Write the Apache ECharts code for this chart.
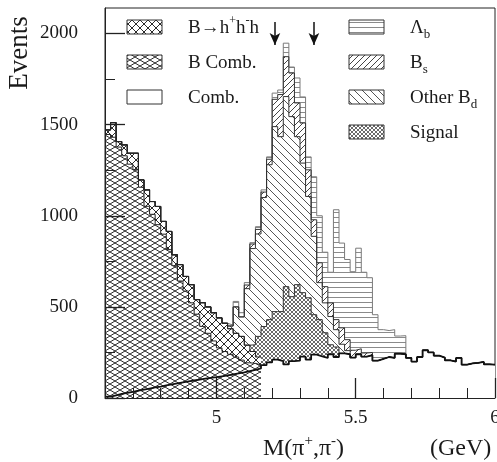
<!DOCTYPE html>
<html><head><meta charset="utf-8">
<script src="https://cdn.jsdelivr.net/npm/echarts@6/dist/echarts.min.js"></script>
<style>html,body{margin:0;padding:0;background:#fff}#c{width:497px;height:462px}</style>
</head><body><div id="c"></div>
<script>
// ---- binning (GeV) ----
const BIN_START = 4.6, BIN_WIDTH = 0.02, N_BINS = 70;
// ---- component values per bin (events) ----
const comb = [8,15,22,28,34,40,46,52,58,63,
  69,75,80,86,91,96,101,106,110,114,
  119,124,129,135,141,148,155,162,180,195,
  211,202,184,202,205,227,211,238,229,220,
  240,225,245,240,222,240,227,235,205,215,
  225,220,243,240,220,200,225,262,250,232,
  222,207,200,220,183,190,193,198,185,183];
const bComb = [1438,1416,1355,1301,1249,1213,1111,1000,950,888,
  830,739,646,556,496,426,359,287,245,199,
  156,131,111,90,67,45,35,20,0,0,
  0,0,0,0,0,0,0,0,0,0, 0,0,0,0,0,0,0,0,0,0,
  0,0,0,0,0,0,0,0,0,0, 0,0,0,0,0,0,0,0,0,0];
const bhhh = [25,80,30,60,60,90,40,90,70,100,
  70,100,60,90,80,100,80,130,145,155,
  165,155,140,130,130,97,65,43,0,0,
  0,0,0,0,0,0,0,0,0,0, 0,0,0,0,0,0,0,0,0,0,
  0,0,0,0,0,0,0,0,0,0, 0,0,0,0,0,0,0,0,0,0];
const signal = [0,0,0,0,0,0,0,0,0,0, 0,0,0,0,0,0,0,0,0,0,
  0,0,0,0,0,0,37,113,212,235,
  263,272,427,354,417,351,339,219,201,138,
  52,55,0,0,0,0,0,0,0,0,
  0,0,0,0,0,0,0,0,0,0, 0,0,0,0,0,0,0,0,0,0];
const otherBd = [0,0,0,0,0,0,0,0,0,0, 0,0,0,0,0,0,0,0,0,0,
  0,0,15,145,107,310,528,562,708,850,
  1015,960,1043,988,812,711,556,430,203,164,
  155,95,50,20,0,0,0,0,0,0,
  0,0,0,0,0,0,0,0,0,0, 0,0,0,0,0,0,0,0,0,0];
const bs = [0,0,0,0,0,0,0,0,0,0, 0,0,0,0,0,0,0,0,0,0,
  0,0,0,0,0,20,25,25,30,30,
  150,231,219,239,185,220,146,91,109,89,
  75,55,90,60,40,30,20,15,0,0,
  0,0,0,0,0,0,0,0,0,0, 0,0,0,0,0,0,0,0,0,0];
const lambdaB = [0,0,0,0,0,0,0,0,0,0, 0,0,0,0,0,0,0,0,0,0,
  0,0,5,30,23,13,7,15,12,13,
  34,25,74,33,137,143,71,236,258,189,
  168,603,465,440,431,552,443,410,252,160,
  145,155,97,102,0,0,0,0,0,0,
  0,0,0,0,0,0,0,0,0,0];
// ---- axes ----
const xMinorTicks = [4.7,4.8,4.9,5.0,5.1,5.2,5.3,5.4,5.5,5.6,5.7,5.8,5.9];
const xMajorTicks = [5, 5.5, 6];
const yMinorTicks = [250,500,750,1000,1250,1500,1750,2000];
const yMajorTicks = [0,500,1000,1500,2000];
const arrowsAt = [5.21, 5.35];
const FONT = "'Liberation Serif','Times New Roman',serif";

// ---- cumulative stack ----
function addArr(a,b){return a.map((v,i)=>v+b[i]);}
const cumC = comb.slice();
const cumCB = addArr(cumC,bComb);
const cumH = addArr(cumCB,bhhh);
const cumS = addArr(cumH,signal);
const cumO = addArr(cumS,otherBd);
const cumBs = addArr(cumO,bs);
const cumT = addArr(cumBs,lambdaB);
let lastB = 0; for(let i=0;i<N_BINS;i++){ if(bComb[i]+bhhh[i]>0) lastB=i; }

// ---- patterns ----
function tile(w,h,fn){const c=document.createElement('canvas');c.width=w;c.height=h;const g=c.getContext('2d');
  g.fillStyle='#fff';g.fillRect(0,0,w,h);g.strokeStyle='#2a2a2a';g.fillStyle='#2a2a2a';g.lineWidth=1;fn(g,w,h);
  return {image:c,repeat:'repeat'};}
function seg(g,x1,y1,x2,y2){g.beginPath();g.moveTo(x1,y1);g.lineTo(x2,y2);g.stroke();}
const PAT = {
  hlines: tile(4,5,(g,w)=>{g.fillStyle='#8a8a8a';g.fillRect(0,2,w,1);}),
  fwd: tile(6,6,(g,w,h)=>{g.strokeStyle='#444';for(const k of [-w,0,w]) seg(g,k,h,k+w,0);}),
  back: tile(8,8,(g,w,h)=>{g.strokeStyle='#555';for(const k of [-w,0,w]) seg(g,k,0,k+w,h);}),
  dots: tile(4,4,(g)=>{g.fillStyle='#6a6a6a';[[0,0],[1,1],[2,2],[3,3],[3,0],[2,1],[1,2],[0,3]].forEach(p=>g.fillRect(p[0],p[1],1,1));}),
  cross: tile(8,8,(g,w,h)=>{for(const k of [-w,0,w]){seg(g,k,0,k+w,h);seg(g,k,h,k+w,0);}}),
  lattice: tile(10,6,(g,w,h)=>{for(const k of [-w,0,w]){seg(g,k,0,k+w,h);seg(g,k,h,k+w,0);}})
};

function stepData(vals,from,to){
  const d=[];
  for(let i=from;i<=to;i++) d.push([+(BIN_START+i*BIN_WIDTH).toFixed(4), vals[i]]);
  d.push([+(BIN_START+(to+1)*BIN_WIDTH).toFixed(4), vals[to]]);
  return d;
}
function stepSeries(name,vals,from,to,fill,lineColor,lineWidth,extra){
  const s={name,type:'line',step:'end',data:stepData(vals,from,to),symbol:'none',showSymbol:false,
    silent:true,animation:false,xAxisIndex:0,yAxisIndex:0,
    lineStyle:{color:lineColor,width:lineWidth,opacity:lineWidth>0?1:0}};
  if(fill) s.areaStyle={color:fill,opacity:1};
  return Object.assign(s,extra||{});
}

const series = [
  stepSeries('Λb',cumT,0,N_BINS-1,PAT.hlines,'#7a7a7a',1),
  stepSeries('Bs',cumBs,0,N_BINS-1,PAT.fwd,'#333',1),
  stepSeries('Other Bd',cumO,0,N_BINS-1,PAT.back,'#333',1),
  stepSeries('Signal',cumS,0,N_BINS-1,PAT.dots,'#333',1),
  stepSeries('Comb. fill',cumC,0,N_BINS-1,'#ffffff','#fff',0),
  stepSeries('B→hhh',cumH,0,lastB,PAT.cross,'#222',1),
  stepSeries('B Comb.',cumCB,0,lastB,PAT.lattice,'#222',1),
  stepSeries('Comb.',cumC,0,N_BINS-1,null,'#111',1.8,{
    markLine:{silent:true,animation:false,symbol:['none','arrow'],symbolSize:[8,12],
      label:{show:false},lineStyle:{color:'#111',width:1.5,type:'solid'},
      data:arrowsAt.map(x=>[{coord:[x,2063]},{coord:[x,1937]}])}
  })
];

// ---- legend (graphic) ----
const rich = {
  sup:{fontSize:12,fontFamily:FONT,verticalAlign:'top',lineHeight:12,fill:'#1a1a1a'},
  sub:{fontSize:13,fontFamily:FONT,verticalAlign:'bottom',lineHeight:13,fill:'#1a1a1a'}
};
const legendLeft = [
  {label:'B→h{sup|+}h{sup|-}h', fill:PAT.cross},
  {label:'B Comb.', fill:PAT.lattice},
  {label:'Comb.', fill:'#fff'}
];
const legendRight = [
  {label:'Λ{sub|b}', fill:PAT.hlines},
  {label:'B{sub|s}', fill:PAT.fwd},
  {label:'Other B{sub|d}', fill:PAT.back},
  {label:'Signal', fill:PAT.dots}
];
const rowY = [27,62,97,132];
const graphic = [];
function addLegend(items,boxX,textX){
  items.forEach((it,i)=>{
    graphic.push({type:'rect',shape:{x:boxX,y:rowY[i]-7,width:35,height:14},
      style:{fill:it.fill,stroke:'#333',lineWidth:1},silent:true});
    graphic.push({type:'text',x:textX,y:rowY[i]+1,silent:true,
      style:{text:it.label,fontFamily:FONT,fontSize:19,fill:'#1a1a1a',lineHeight:26,
        verticalAlign:'middle',align:'left',rich}});
  });
}
addLegend(legendLeft,127,188);
addLegend(legendRight,349,410);
// axis titles
graphic.push({type:'text',x:263,y:449,silent:true,style:{text:'M(π{sup|+},π{sup|-})',fontFamily:FONT,fontSize:24,fill:'#1a1a1a',
  lineHeight:30,verticalAlign:'middle',align:'left',rich:{sup:{fontSize:15,fontFamily:FONT,verticalAlign:'top',lineHeight:15,fill:'#1a1a1a'}}}});
graphic.push({type:'text',x:430,y:449,silent:true,style:{text:'(GeV)',fontFamily:FONT,fontSize:24,fill:'#1a1a1a',verticalAlign:'middle',align:'left'}});
graphic.push({type:'text',x:20,y:53,rotation:Math.PI/2,silent:true,style:{text:'Events',fontFamily:FONT,fontSize:27,fill:'#1a1a1a',verticalAlign:'middle',align:'center'}});

const axisColor = '#222';
const plain = v => String(v);
const option = {
  animation:false,
  backgroundColor:'#fff',
  grid:{left:105,right:2,top:8,bottom:64,show:true,borderColor:axisColor,borderWidth:1,backgroundColor:'transparent',outerBoundsMode:'none'},
  xAxis:[
    {type:'value',min:4.6,max:6.0,position:'bottom',z:10,
      axisLine:{show:true,lineStyle:{color:axisColor,width:1}},
      axisTick:{show:true,inside:true,length:10,customValues:xMinorTicks,lineStyle:{color:axisColor,width:1}},
      axisLabel:{show:false},splitLine:{show:false}},
    {type:'value',min:4.6,max:6.0,position:'bottom',z:10,
      axisLine:{show:false},
      axisTick:{show:true,inside:true,length:20,customValues:xMajorTicks,lineStyle:{color:axisColor,width:1.3}},
      axisLabel:{show:true,customValues:xMajorTicks,margin:11,fontFamily:FONT,fontSize:19,color:'#1a1a1a',formatter:plain},
      splitLine:{show:false}}
  ],
  yAxis:[
    {type:'value',min:0,max:2140,position:'left',z:10,
      axisLine:{show:true,lineStyle:{color:axisColor,width:1}},
      axisTick:{show:true,inside:true,length:10,customValues:yMinorTicks,lineStyle:{color:axisColor,width:1}},
      axisLabel:{show:false},splitLine:{show:false}},
    {type:'value',min:0,max:2140,position:'left',z:10,
      axisLine:{show:false},
      axisTick:{show:true,inside:true,length:20,customValues:yMajorTicks,lineStyle:{color:axisColor,width:1.3}},
      axisLabel:{show:true,customValues:yMajorTicks,margin:27,fontFamily:FONT,fontSize:19,color:'#1a1a1a',formatter:plain},
      splitLine:{show:false}}
  ],
  series,
  graphic
};
const chart = echarts.init(document.getElementById('c'),null,{renderer:'canvas'});
chart.setOption(option);
</script>
</body></html>
